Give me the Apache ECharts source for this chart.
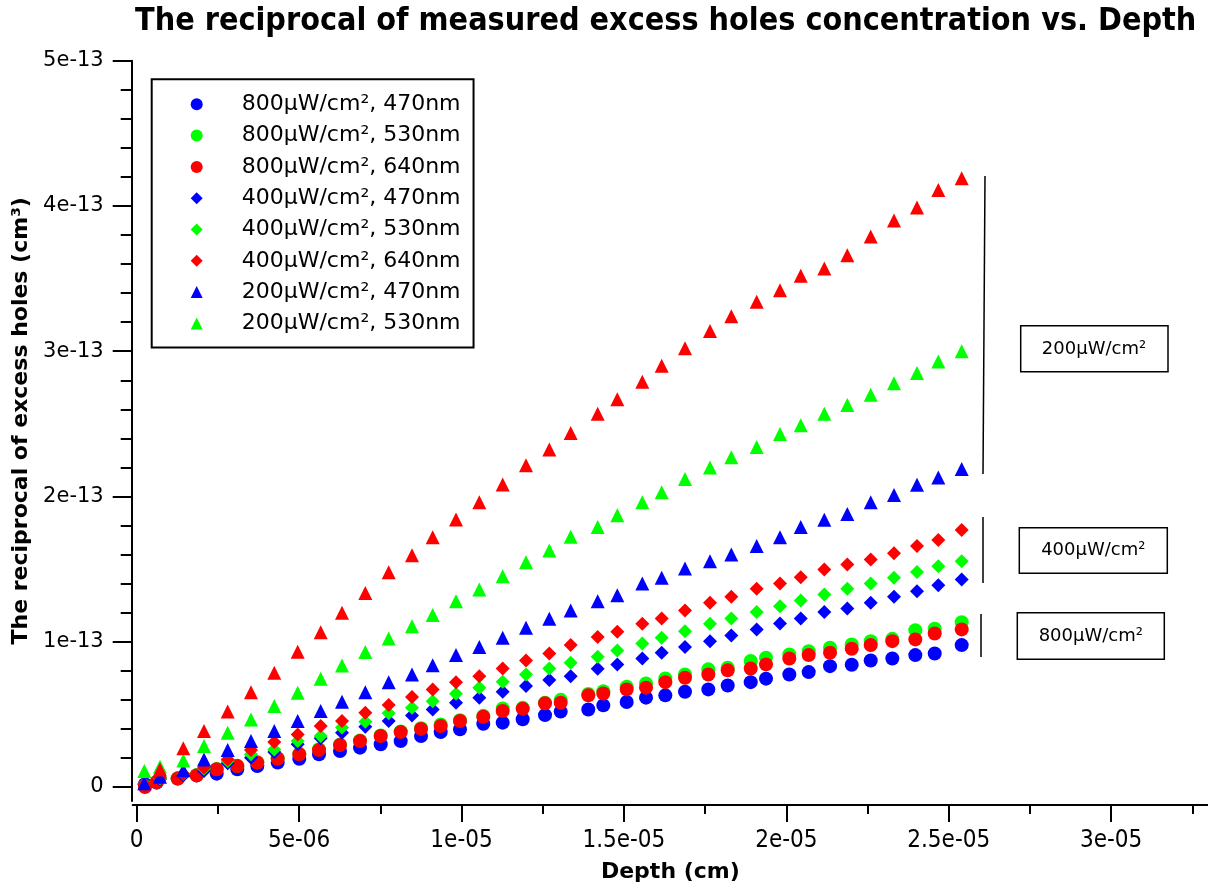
<!DOCTYPE html>
<html><head><meta charset="utf-8">
<script src="https://cdn.jsdelivr.net/npm/echarts@6/dist/echarts.min.js"></script>
<style>html,body{margin:0;padding:0;background:#fff}#c{width:1208px;height:888px}</style>
</head><body><div id="c"></div>
<script>
// Depth (cm) of the 800 uW/cm2 measurements (circles)
const depthCircle = [0.256e-6,0.616e-6,1.262e-6,1.847e-6,2.463e-6,3.097e-6,3.713e-6,4.341e-6,5.006e-6,5.613e-6,
  6.259e-6,6.875e-6,7.512e-6,8.128e-6,8.753e-6,9.360e-6,9.954e-6,10.671e-6,11.268e-6,11.884e-6,
  12.571e-6,13.054e-6,13.904e-6,14.366e-6,15.086e-6,15.681e-6,16.275e-6,16.881e-6,17.599e-6,18.196e-6,
  18.904e-6,19.375e-6,20.093e-6,20.690e-6,21.346e-6,22.014e-6,22.599e-6,23.264e-6,23.972e-6,24.569e-6,25.400e-6];
// Depth (cm) of the 400 and 200 uW/cm2 measurements (diamonds, triangles)
const depthMarker = [0.234e-6,0.717e-6,1.435e-6,2.072e-6,2.802e-6,3.519e-6,4.236e-6,4.957e-6,5.665e-6,6.321e-6,
  7.038e-6,7.758e-6,8.476e-6,9.113e-6,9.831e-6,10.548e-6,11.268e-6,11.986e-6,12.703e-6,13.362e-6,
  14.193e-6,14.797e-6,15.567e-6,16.164e-6,16.881e-6,17.651e-6,18.307e-6,19.089e-6,19.806e-6,20.444e-6,
  21.170e-6,21.878e-6,22.599e-6,23.316e-6,24.024e-6,24.680e-6,25.400e-6];
const depthMarker640 = [0.717e-6,1.435e-6,2.072e-6,2.802e-6,3.519e-6,4.236e-6,4.957e-6,5.665e-6,6.321e-6,
  7.038e-6,7.758e-6,8.476e-6,9.113e-6,9.831e-6,10.548e-6,11.268e-6,11.986e-6,12.703e-6,13.362e-6,
  14.193e-6,14.797e-6,15.567e-6,16.164e-6,16.881e-6,17.651e-6,18.307e-6,19.089e-6,19.806e-6,20.444e-6,
  21.170e-6,21.878e-6,22.599e-6,23.316e-6,24.024e-6,24.680e-6,25.400e-6];

// Reciprocal of excess holes (cm^3)
const c800_470 = [0.019e-13,0.030e-13,0.058e-13,0.080e-13,0.092e-13,0.122e-13,0.144e-13,0.168e-13,0.195e-13,0.225e-13,
  0.248e-13,0.271e-13,0.294e-13,0.316e-13,0.351e-13,0.378e-13,0.397e-13,0.436e-13,0.443e-13,0.466e-13,
  0.495e-13,0.519e-13,0.534e-13,0.562e-13,0.585e-13,0.615e-13,0.631e-13,0.656e-13,0.672e-13,0.699e-13,
  0.722e-13,0.746e-13,0.775e-13,0.791e-13,0.832e-13,0.842e-13,0.871e-13,0.885e-13,0.908e-13,0.919e-13,0.977e-13];
const c800_530 = [0.005e-13,0.036e-13,0.060e-13,0.082e-13,0.124e-13,0.146e-13,0.170e-13,0.198e-13,0.230e-13,0.260e-13,
  0.292e-13,0.320e-13,0.355e-13,0.383e-13,0.405e-13,0.430e-13,0.460e-13,0.490e-13,0.540e-13,0.545e-13,
  0.580e-13,0.600e-13,0.640e-13,0.660e-13,0.690e-13,0.713e-13,0.747e-13,0.775e-13,0.810e-13,0.821e-13,
  0.867e-13,0.890e-13,0.913e-13,0.935e-13,0.959e-13,0.981e-13,1.004e-13,1.020e-13,1.080e-13,1.089e-13,1.135e-13];
const c800_640 = [0.000e-13,0.034e-13,0.058e-13,0.080e-13,0.122e-13,0.144e-13,0.168e-13,0.195e-13,0.225e-13,0.254e-13,
  0.289e-13,0.316e-13,0.351e-13,0.378e-13,0.400e-13,0.420e-13,0.454e-13,0.484e-13,0.523e-13,0.539e-13,
  0.576e-13,0.580e-13,0.631e-13,0.644e-13,0.672e-13,0.684e-13,0.722e-13,0.752e-13,0.775e-13,0.803e-13,
  0.816e-13,0.844e-13,0.885e-13,0.908e-13,0.924e-13,0.952e-13,0.977e-13,1.004e-13,1.016e-13,1.057e-13,1.085e-13];
const d400_470 = [0.015e-13,0.053e-13,0.080e-13,0.110e-13,0.163e-13,0.202e-13,0.241e-13,0.294e-13,0.335e-13,0.374e-13,
  0.415e-13,0.454e-13,0.493e-13,0.534e-13,0.580e-13,0.615e-13,0.656e-13,0.695e-13,0.736e-13,0.763e-13,
  0.814e-13,0.844e-13,0.885e-13,0.924e-13,0.963e-13,1.004e-13,1.043e-13,1.085e-13,1.126e-13,1.160e-13,
  1.204e-13,1.229e-13,1.268e-13,1.309e-13,1.348e-13,1.389e-13,1.429e-13];
const d400_530 = [0.020e-13,0.060e-13,0.090e-13,0.126e-13,0.179e-13,0.225e-13,0.259e-13,0.316e-13,0.351e-13,0.409e-13,
  0.450e-13,0.507e-13,0.546e-13,0.591e-13,0.642e-13,0.684e-13,0.725e-13,0.775e-13,0.816e-13,0.856e-13,
  0.897e-13,0.940e-13,0.988e-13,1.027e-13,1.073e-13,1.124e-13,1.160e-13,1.204e-13,1.245e-13,1.284e-13,
  1.325e-13,1.364e-13,1.401e-13,1.440e-13,1.481e-13,1.520e-13,1.554e-13];
const d400_640 = [0.020e-13,0.065e-13,0.090e-13,0.133e-13,0.190e-13,0.254e-13,0.310e-13,0.362e-13,0.420e-13,0.454e-13,
  0.512e-13,0.564e-13,0.619e-13,0.672e-13,0.722e-13,0.763e-13,0.816e-13,0.871e-13,0.919e-13,0.977e-13,
  1.032e-13,1.069e-13,1.124e-13,1.160e-13,1.215e-13,1.268e-13,1.309e-13,1.364e-13,1.401e-13,1.444e-13,
  1.497e-13,1.532e-13,1.566e-13,1.610e-13,1.660e-13,1.700e-13,1.770e-13];
const t200_470 = [0.026e-13,0.070e-13,0.116e-13,0.190e-13,0.254e-13,0.316e-13,0.385e-13,0.454e-13,0.523e-13,0.587e-13,
  0.653e-13,0.722e-13,0.775e-13,0.839e-13,0.908e-13,0.963e-13,1.027e-13,1.096e-13,1.158e-13,1.215e-13,
  1.279e-13,1.320e-13,1.401e-13,1.440e-13,1.504e-13,1.554e-13,1.600e-13,1.660e-13,1.720e-13,1.790e-13,
  1.840e-13,1.880e-13,1.960e-13,2.010e-13,2.080e-13,2.130e-13,2.190e-13];
const t200_530 = [0.110e-13,0.140e-13,0.183e-13,0.282e-13,0.374e-13,0.465e-13,0.557e-13,0.649e-13,0.745e-13,0.837e-13,
  0.930e-13,1.022e-13,1.107e-13,1.185e-13,1.279e-13,1.360e-13,1.451e-13,1.547e-13,1.628e-13,1.722e-13,
  1.790e-13,1.870e-13,1.960e-13,2.030e-13,2.120e-13,2.200e-13,2.270e-13,2.340e-13,2.430e-13,2.490e-13,
  2.570e-13,2.630e-13,2.700e-13,2.780e-13,2.850e-13,2.930e-13,3.000e-13];
const t200_640 = [0.120e-13,0.266e-13,0.385e-13,0.519e-13,0.653e-13,0.787e-13,0.931e-13,1.066e-13,1.199e-13,
  1.336e-13,1.479e-13,1.596e-13,1.720e-13,1.841e-13,1.960e-13,2.082e-13,2.215e-13,2.323e-13,2.437e-13,
  2.570e-13,2.670e-13,2.790e-13,2.900e-13,3.020e-13,3.140e-13,3.240e-13,3.340e-13,3.420e-13,3.520e-13,
  3.570e-13,3.660e-13,3.790e-13,3.900e-13,3.990e-13,4.110e-13,4.190e-13];

const xTickValues = [0, 5e-6, 1e-5, 1.5e-5, 2e-5, 2.5e-5, 3e-5];
const xTickLabels = ['0', '5e-06', '1e-05', '1.5e-05', '2e-05', '2.5e-05', '3e-05'];
const xMinorValues = [2.5e-6, 7.5e-6, 12.5e-6, 17.5e-6, 22.5e-6, 27.5e-6, 32.5e-6];
const yTickValues = [0, 1e-13, 2e-13, 3e-13, 4e-13, 5e-13];
const yTickLabels = ['0', '1e-13', '2e-13', '3e-13', '4e-13', '5e-13'];
const yMinorValues = [0.2e-13,0.4e-13,0.6e-13,0.8e-13,1.2e-13,1.4e-13,1.6e-13,1.8e-13,2.2e-13,2.4e-13,2.6e-13,2.8e-13,
  3.2e-13,3.4e-13,3.6e-13,3.8e-13,4.2e-13,4.4e-13,4.6e-13,4.8e-13];

const seriesDefs = [
  {name:'800µW/cm², 470nm', sym:'circle', color:'#0000ff', xs:depthCircle, ys:c800_470, size:14},
  {name:'800µW/cm², 530nm', sym:'circle', color:'#00ff00', xs:depthCircle, ys:c800_530, size:14},
  {name:'800µW/cm², 640nm', sym:'circle', color:'#ff0000', xs:depthCircle, ys:c800_640, size:14},
  {name:'400µW/cm², 470nm', sym:'diamond', color:'#0000ff', xs:depthMarker, ys:d400_470, size:14},
  {name:'400µW/cm², 530nm', sym:'diamond', color:'#00ff00', xs:depthMarker, ys:d400_530, size:14},
  {name:'400µW/cm², 640nm', sym:'diamond', color:'#ff0000', xs:depthMarker, ys:d400_640, size:14},
  {name:'200µW/cm², 470nm', sym:'triangle', color:'#0000ff', xs:depthMarker, ys:t200_470, size:14},
  {name:'200µW/cm², 530nm', sym:'triangle', color:'#00ff00', xs:depthMarker, ys:t200_530, size:14},
  {name:'200µW/cm², 640nm', sym:'triangle', color:'#ff0000', xs:depthMarker640, ys:t200_640, size:14}
];
const legendNames = seriesDefs.slice(0, 8);

function fmt(values, labels) {
  return function (v) {
    for (let i = 0; i < values.length; i++) {
      if (Math.abs(v - values[i]) <= Math.abs(values[1] - values[0]) * 1e-6) return labels[i];
    }
    return '';
  };
}

const FONT = 'DejaVu Sans';
const xMin = -1.23e-7, xMax = 3.2983e-5, yMin = -0.0963e-13, yMax = 5e-13;

const chart = echarts.init(document.getElementById('c'), null, {renderer: 'canvas'});
chart.setOption({
  animation: false,
  backgroundColor: '#fff',
  title: {
    text: 'The reciprocal of measured excess holes concentration vs. Depth',
    left: 130, top: 1,
    textStyle: {fontFamily: 'DejaVu Sans Condensed', fontWeight: 'bold', fontSize: 32, color: '#000'}
  },
  grid: {left: 132.7, right: 0, top: 60.7, bottom: 86.3},
  legend: {
    left: 151.7, top: 79.3, orient: 'vertical',
    padding: [14, 13, 13, 39],
    itemGap: 9.3, itemWidth: 12, itemHeight: 12,
    borderColor: '#000', borderWidth: 2, backgroundColor: '#fff',
    data: legendNames.map(d => ({name: d.name, icon: d.sym})),
    textStyle: {fontFamily: FONT, fontSize: 22, lineHeight: 22, color: '#000', padding: [0, 0, 0, 34]}
  },
  xAxis: [
    {type: 'value', min: xMin, max: xMax, position: 'bottom', offset: 4,
     axisLine: {show: true, onZero: false, lineStyle: {color: '#000', width: 2}},
     axisTick: {show: true, customValues: xTickValues, length: 17, lineStyle: {color: '#000', width: 2}},
     axisLabel: {customValues: xTickValues, formatter: fmt(xTickValues, xTickLabels), margin: 24,
                 fontFamily: 'DejaVu Sans Condensed', fontSize: 24, color: '#000'},
     splitLine: {show: false},
     name: 'Depth (cm)', nameLocation: 'middle', nameGap: 56,
     nameTextStyle: {fontFamily: FONT, fontWeight: 'bold', fontSize: 22, color: '#000'}},
    {type: 'value', min: xMin, max: xMax, position: 'bottom', offset: 4,
     axisLine: {show: false, onZero: false},
     axisTick: {show: true, customValues: xMinorValues, length: 9, lineStyle: {color: '#000', width: 2}},
     axisLabel: {show: false}, splitLine: {show: false}}
  ],
  yAxis: [
    {type: 'value', min: yMin, max: yMax, position: 'left', offset: 1,
     axisLine: {show: true, onZero: false, lineStyle: {color: '#000', width: 2}},
     axisTick: {show: true, customValues: yTickValues, length: 19, lineStyle: {color: '#000', width: 2}},
     axisLabel: {customValues: yTickValues, formatter: fmt(yTickValues, yTickLabels), margin: 28,
                 fontFamily: FONT, fontSize: 21, color: '#000'},
     splitLine: {show: false},
     name: 'The reciprocal of excess holes (cm³)', nameLocation: 'middle', nameGap: 86, nameRotate: 90,
     nameTextStyle: {fontFamily: FONT, fontWeight: 'bold', fontSize: 22, color: '#000', padding: [0, 0, 0, 20]}},
    {type: 'value', min: yMin, max: yMax, position: 'left', offset: 1,
     axisLine: {show: false, onZero: false},
     axisTick: {show: true, customValues: yMinorValues, length: 11, lineStyle: {color: '#000', width: 2}},
     axisLabel: {show: false}, splitLine: {show: false}}
  ],
  series: seriesDefs.map(d => ({
    type: 'scatter', name: d.name, symbol: d.sym, symbolSize: d.size,
    xAxisIndex: 0, yAxisIndex: 0,
    itemStyle: {color: d.color, opacity: 1},
    emphasis: {disabled: true},
    data: d.ys.map((y, i) => [d.xs[i], y])
  })),
  graphic: [
    {type: 'line', shape: {x1: 985, y1: 176, x2: 983, y2: 474}, style: {stroke: '#000', lineWidth: 1.5}},
    {type: 'rect', shape: {x: 1020.7, y: 325.7, width: 147.3, height: 46}, style: {fill: '#fff', stroke: '#000', lineWidth: 1.5}},
    {type: 'text', x: 1094, y: 349, style: {text: '200µW/cm²', fontFamily: FONT, fontSize: 18, fill: '#000', align: 'center', verticalAlign: 'middle'}},
    {type: 'line', shape: {x1: 983, y1: 517, x2: 983, y2: 583}, style: {stroke: '#000', lineWidth: 1.5}},
    {type: 'rect', shape: {x: 1019.3, y: 527.7, width: 148, height: 45.6}, style: {fill: '#fff', stroke: '#000', lineWidth: 1.5}},
    {type: 'text', x: 1093.3, y: 550.5, style: {text: '400µW/cm²', fontFamily: FONT, fontSize: 18, fill: '#000', align: 'center', verticalAlign: 'middle'}},
    {type: 'line', shape: {x1: 981, y1: 614, x2: 981, y2: 657}, style: {stroke: '#000', lineWidth: 1.5}},
    {type: 'rect', shape: {x: 1017.3, y: 612.7, width: 147, height: 46.6}, style: {fill: '#fff', stroke: '#000', lineWidth: 1.5}},
    {type: 'text', x: 1090.8, y: 636, style: {text: '800µW/cm²', fontFamily: FONT, fontSize: 18, fill: '#000', align: 'center', verticalAlign: 'middle'}}
  ]
});
</script></body></html>
